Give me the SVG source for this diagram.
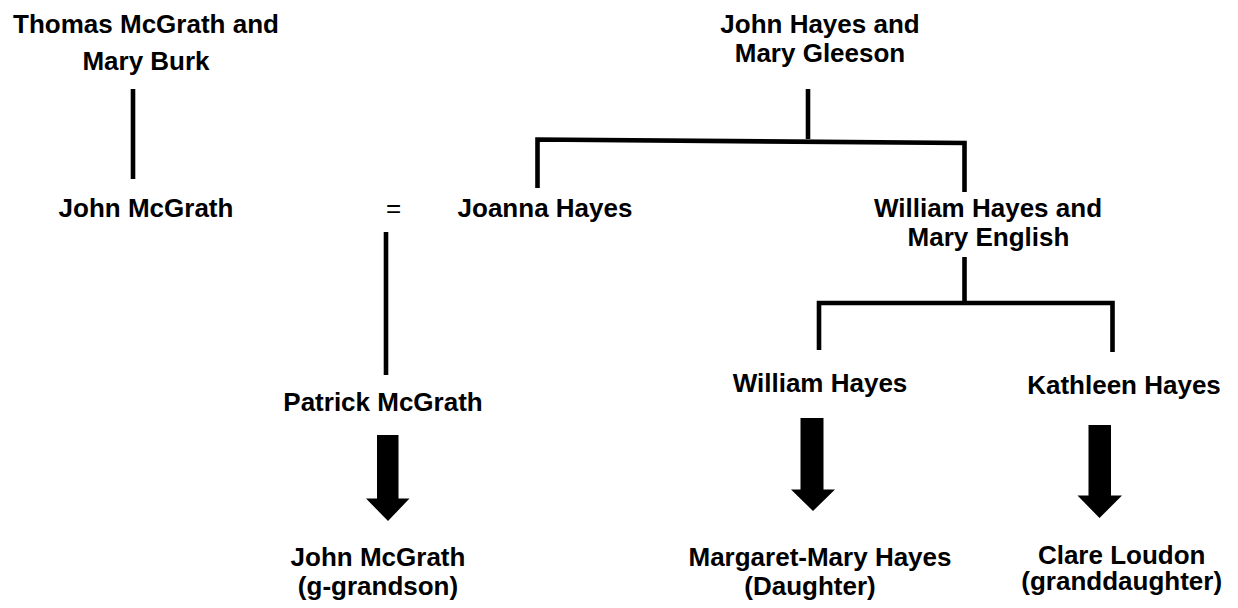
<svg xmlns="http://www.w3.org/2000/svg" width="1238" height="608" viewBox="0 0 1238 608">
<style>
text{font-family:"Liberation Sans",Arial,sans-serif;font-size:26px;font-weight:bold;fill:#000;text-anchor:middle}
.eq{font-weight:normal}
.ln{fill:none;stroke:#000;stroke-width:4.6;stroke-linejoin:miter;stroke-linecap:butt}
.ar{fill:#000;stroke:none}
</style>
<rect width="1238" height="608" fill="#fff"/>
<g id="connectors">
<path class="ln" d="M133 89V179"/>
<path class="ln" d="M808 89V139"/>
<path class="ln" d="M537.5 188V139.5L964.5 143V192"/>
<path class="ln" d="M386 232V375"/>
<path class="ln" d="M964.5 257V303"/>
<path class="ln" d="M819 350V303H1112.5V352"/>
<path class="ar" d="M377 435H398.5V498.5H409.5L388 521L366 498.5H377Z"/>
<path class="ar" d="M800.5 418H823.5V489.5H835L813 511L791 489.5H800.5Z"/>
<path class="ar" d="M1088.5 425H1111V495.5H1122L1099.5 518L1077.5 495.5H1088.5Z"/>
</g>
<g id="thomas"><text x="146" y="32.7">Thomas McGrath and</text><text x="146" y="70">Mary Burk</text></g>
<g id="johnhayes"><text x="820" y="32.7">John Hayes and</text><text x="820" y="61.5">Mary Gleeson</text></g>
<g id="johnmcgrath"><text x="146" y="217">John McGrath</text></g>
<g id="eq"><text class="eq" x="393.5" y="217">=</text></g>
<g id="joanna"><text x="545" y="217">Joanna Hayes</text></g>
<g id="williamhayesand"><text x="988" y="217">William Hayes and</text><text x="988.5" y="246">Mary English</text></g>
<g id="patrick"><text x="383" y="410.7">Patrick McGrath</text></g>
<g id="william"><text x="820" y="392">William Hayes</text></g>
<g id="kathleen"><text x="1124" y="394">Kathleen Hayes</text></g>
<g id="johng"><text x="378" y="565.7">John McGrath</text><text x="378" y="595">(g-grandson)</text></g>
<g id="margaret"><text x="820" y="566">Margaret-Mary Hayes</text><text x="810" y="595">(Daughter)</text></g>
<g id="clare"><text x="1121.7" y="564">Clare Loudon</text><text x="1121.7" y="589.5">(granddaughter)</text></g>
</svg>
